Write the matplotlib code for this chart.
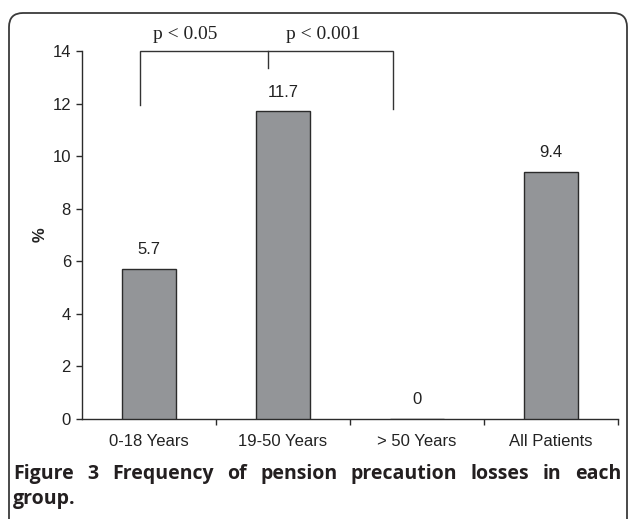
import matplotlib
matplotlib.use("Agg")
import matplotlib.pyplot as plt
from matplotlib.patches import FancyBboxPatch
from matplotlib.transforms import IdentityTransform

# ── data ──────────────────────────────────────────────────────────────────────
groups   = ["0-18 Years", "19-50 Years", "> 50 Years", "All Patients"]
pct      = [5.7, 11.7, 0, 9.4]
yticks   = [0, 2, 4, 6, 8, 10, 12, 14]
p_texts  = ["p < 0.05", "p < 0.001"]
caption1 = "Figure 3 Frequency of pension precaution losses in each"
caption2 = "group."

W, H = 629, 519
fig = plt.figure(figsize=(W / 100, H / 100), dpi=100)
fig.patch.set_facecolor("white")
ax = fig.add_axes([82 / W, 1 - 419 / H, (618 - 82) / W, (419 - 51) / H])

ink = "#222222"
x = list(range(len(groups)))
ax.bar(x, pct, width=0.40, color="#939598", edgecolor="#2b2b2b", linewidth=1.0, zorder=3)

for xi, v in zip(x, pct):
    ax.annotate(f"{v:g}", (xi, v), xytext=(0, 14), textcoords="offset points",
                ha="center", va="center", fontsize=12, color=ink,
                family="Liberation Sans")

ax.set_xlim(-0.5, len(groups) - 0.5)
ax.set_ylim(0, 14)
ax.set_yticks(yticks)
ax.set_yticklabels([str(t) for t in yticks], family="Liberation Sans", fontsize=12, color=ink)
ax.set_xticks(x)
ax.set_xticklabels(groups, family="Liberation Sans", fontsize=12, color=ink)
ax.set_xticks([i + 0.5 for i in x], minor=True)
ax.tick_params(axis="x", which="major", length=0, pad=11)
ax.tick_params(axis="x", which="minor", length=4, width=1, color="#2b2b2b", direction="out")
ax.tick_params(axis="y", length=4, width=1, color="#2b2b2b", direction="out", pad=4)
for s in ["top", "right"]:
    ax.spines[s].set_visible(False)
for s in ["left", "bottom"]:
    ax.spines[s].set_color("#2b2b2b")
    ax.spines[s].set_linewidth(1.0)

ax.set_ylabel("%", family="Liberation Sans", fontsize=12, fontweight="bold",
              color=ink, labelpad=3)

# significance brackets
lc = "#333333"
ax.plot([-0.07, -0.07, 1.82, 1.82], [11.95, 14, 14, 11.8], color=lc, lw=1.0,
        clip_on=False, solid_joinstyle="miter")
ax.plot([0.89, 0.89], [14, 13.35], color=lc, lw=1.0, clip_on=False)
ax.text(0.27, 14.62, p_texts[0], ha="center", va="center", fontsize=14,
        family="Liberation Serif", color=ink, clip_on=False)
ax.text(1.30, 14.62, p_texts[1], ha="center", va="center", fontsize=14,
        family="Liberation Serif", color=ink, clip_on=False)

# ── frame ─────────────────────────────────────────────────────────────────────
frame = FancyBboxPatch((9, -40), 618, H - 13 + 40,
                       boxstyle="round,pad=0,rounding_size=14",
                       facecolor="none", edgecolor="#3a3a3a", lw=1.3,
                       transform=IdentityTransform())
fig.add_artist(frame)

# ── justified caption ─────────────────────────────────────────────────────────
cap_kw = dict(family="Open Sans", fontweight="bold", fontsize=14,
              color="#231f20", va="center", ha="left",
              transform=IdentityTransform())
renderer = fig.canvas.get_renderer()
words = caption1.split()
arts = [fig.text(0, 0, w, **cap_kw) for w in words]
widths = [a.get_window_extent(renderer).width for a in arts]
x_left, x_right = 13, 621
gap = (x_right - x_left - sum(widths)) / (len(words) - 1)
xc = x_left
for a, w in zip(arts, widths):
    a.set_position((xc, H - 474))
    xc += w + gap
fig.text(x_left, H - 499, caption2, **cap_kw)

plt.savefig("out.png", dpi=100)
plt.close()
